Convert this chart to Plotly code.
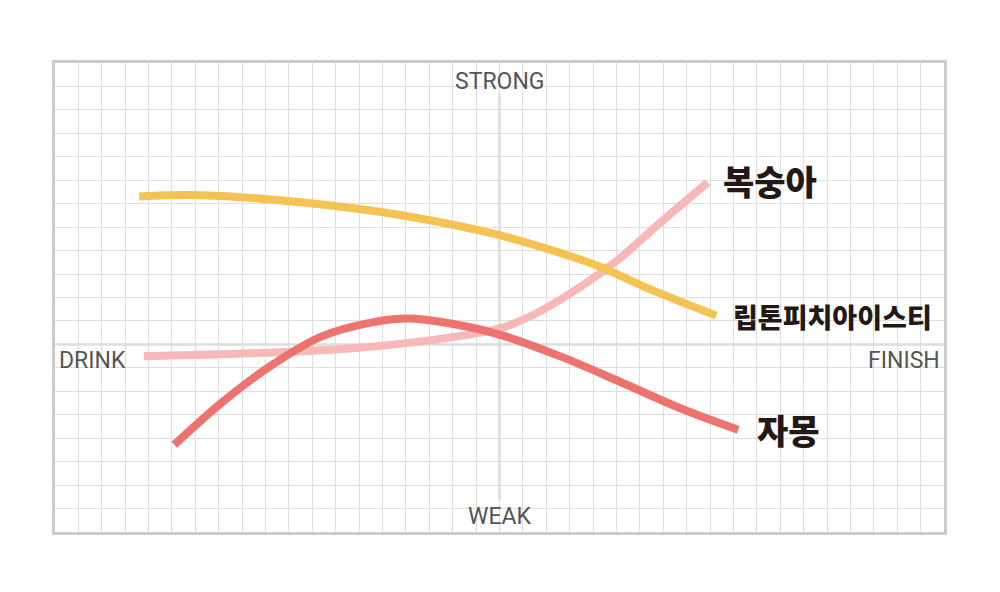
import plotly.graph_objects as go

# flavour curves: x = drink -> finish, y = weak -> strong
peach_x = [-15.2, -10.6, -6.4, -3.0, 0.0, 1.3, 3.0, 5.1, 6.8, 8.9]
peach_y = [-0.5, -0.38, -0.17, 0.17, 0.68, 1.19, 2.16, 3.64, 5.13, 6.91]

lipton_x = [-15.4, -12.7, -8.5, -4.2, 0.0, 2.6, 4.3, 6.4, 9.26]
lipton_y = [6.31, 6.36, 6.06, 5.51, 4.66, 3.90, 3.31, 2.37, 1.23]

grapefruit_x = [-13.9, -11.9, -9.8, -7.6, -5.5, -3.9, -2.1, 0.0, 2.6, 5.1, 7.7, 10.2]
grapefruit_y = [-4.28, -2.50, -0.93, 0.34, 0.93, 1.10, 0.89, 0.42, -0.51, -1.57, -2.71, -3.64]

names = ["복숭아", "립톤피치아이스티", "자몽"]
colors = ["#F6B9B7", "#F5C254", "#EC736E"]

fig = go.Figure()

# axis cross
fig.add_shape(type="line", x0=-19, x1=19, y0=0, y1=0, line=dict(color="#cccccc", width=2), layer="below")
fig.add_shape(type="line", x0=0, x1=0, y0=-6.65, y1=10.7, line=dict(color="#cccccc", width=2), layer="below")

series = [(peach_x, peach_y), (lipton_x, lipton_y), (grapefruit_x, grapefruit_y)]
for (xs, ys), name, c in zip(series, names, colors):
    fig.add_trace(go.Scatter(x=xs, y=ys, mode="lines", name=name,
                             line=dict(color=c, width=8, shape="spline", smoothing=1.0)))

# series labels at line ends
big = dict(family="Noto Sans CJK KR", size=34, color="#231815", weight=900)
fig.add_annotation(x=9.45, y=7.0, text="복숭아", showarrow=False, xanchor="left", font=big)
fig.add_annotation(x=9.9, y=1.2, text="립톤피치아이스티", showarrow=False, xanchor="left",
                   font=dict(family="Noto Sans CJK KR", size=27, color="#231815", weight=900))
fig.add_annotation(x=10.9, y=-3.65, text="자몽", showarrow=False, xanchor="left", font=big)

# axis end labels
ax_font = dict(family="Roboto, sans-serif", size=23, color="#555555")
fig.add_annotation(x=0, y=11.2, text="STRONG", showarrow=False, font=ax_font)
fig.add_annotation(x=0, y=-7.35, text="WEAK", showarrow=False, font=ax_font)
fig.add_annotation(x=-18.9, y=-0.7, text="DRINK", showarrow=False, xanchor="left", font=ax_font)
fig.add_annotation(x=18.9, y=-0.7, text="FINISH", showarrow=False, xanchor="right", font=ax_font)

axis_common = dict(showgrid=True, gridcolor="#dedede", gridwidth=1, dtick=1,
                   zeroline=False, showticklabels=False, ticks="",
                   showline=True, linecolor="#cccccc", linewidth=3, mirror=True, fixedrange=True)
fig.update_xaxes(range=[-19, 19], **axis_common)
fig.update_yaxes(range=[-8, 12], **axis_common)

fig.update_layout(
    width=1000, height=592,
    margin=dict(l=47, r=64, t=55, b=68),
    plot_bgcolor="white", paper_bgcolor="white",
    showlegend=False,
)

fig.write_html("out.html")
